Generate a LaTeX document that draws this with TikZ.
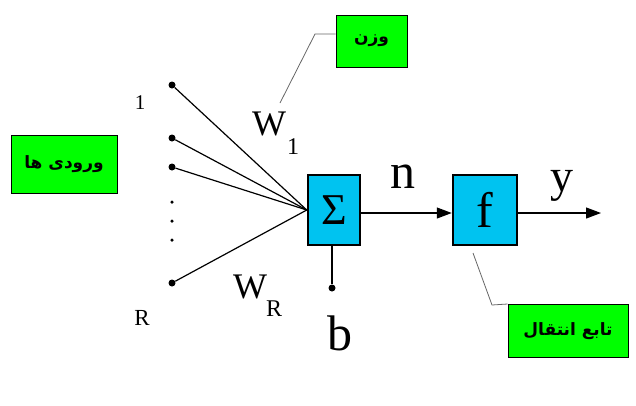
\documentclass[tikz,border=0pt]{standalone}
\usepackage{fontspec}
\setmainfont{Liberation Serif}
\newfontfamily\arabicfont[Script=Arabic]{DejaVu Sans}
\TeXXeTstate=1
\usetikzlibrary{arrows.meta}
\definecolor{boxgreen}{RGB}{0,255,0}
\definecolor{boxcyan}{RGB}{0,195,240}
\tikzset{
  greenbox/.style={draw=black, line width=1pt, fill=boxgreen, inner sep=0pt, font=\arabicfont\bfseries\fontsize{17}{19}\selectfont},
  cyanbox/.style={draw=black, line width=2.5pt, fill=boxcyan, inner sep=0pt},
  wire/.style={line width=1.2pt},
  leader/.style={draw=gray!80!black, line width=0.8pt},
  dotnode/.style={circle, fill=black, inner sep=0pt, minimum size=7pt},
  smalldot/.style={circle, fill=black, inner sep=0pt, minimum size=3.5pt},
  arr/.style={wire, -{Triangle[length=15pt,width=11pt]}},
  big/.style={font=\fontsize{50}{52}\selectfont, inner sep=0pt},
  wfont/.style={font=\fontsize{36}{38}\selectfont, inner sep=0pt},
  mid/.style={font=\fontsize{24}{26}\selectfont, inner sep=0pt},
  lab/.style={font=\fontsize{21}{23}\selectfont, inner sep=0pt},
}
\begin{document}
\begin{tikzpicture}[x=1pt,y=-1pt]
\useasboundingbox (0,0) rectangle (636,405);
% boxes
\node[cyanbox, minimum width=52pt, minimum height=70pt] (sig) at (334,210) {\fontsize{44}{46}\selectfont Σ};
\node[cyanbox, minimum width=64pt, minimum height=70pt] (f) at (485,210) {\fontsize{50}{52}\selectfont f};
\node[greenbox, minimum width=71pt, minimum height=52pt] (wbox) at (371.5,41) {\beginR وزن\endR};
\node[greenbox, minimum width=106pt, minimum height=58pt] (inbox) at (64,164) {\beginR ورودی ها\endR};
\node[greenbox, minimum width=120pt, minimum height=53pt] (tbox) at (568,331) {\beginR تابع انتقال\endR};
% inputs
\node[dotnode] (p1) at (172,85) {};
\node[dotnode] (p2) at (172,138) {};
\node[dotnode] (p3) at (172,167) {};
\node[smalldot] (d1) at (172,202) {};
\node[smalldot] (d2) at (172,221) {};
\node[smalldot] (d3) at (172,240) {};
\node[dotnode] (pR) at (172,283) {};
\foreach \p in {p1,p2,p3,pR} \draw[wire] (\p) -- (sig.west);
% bias
\node[dotnode] (bd) at (332,288) {};
\draw[wire] (sig.south -| bd) -- (bd);
\node[big] (b) at (340,333) {b};
% arrows
\coordinate (yend) at (601,213);
\draw[arr] (sig.east |- 0,213) -- (f.west |- 0,213);
\draw[arr] (f.east |- 0,213) -- (yend);
\node[big] (n) at (403,177) {n};
\node[big, font=\fontsize{46}{48}\selectfont] (y) at (562,186) {y};
% labels
\node[lab] (one) at (140,103) {1};
\node[lab, font=\fontsize{23}{25}\selectfont] (R) at (142,318) {R};
\node[wfont] (W1) at (269,124) {W};
\node[mid] (W1s) at (293,147) {1};
\node[wfont] (WR) at (250,287) {W};
\node[mid] (WRs) at (274,309) {R};
% leaders
\coordinate (l1) at (315,34);
\draw[leader] (280,103) -- (l1) -- (wbox.west |- l1);
\coordinate (l2) at (492,305);
\draw[leader] (473,253) -- (l2) -- (tbox.north west);
\end{tikzpicture}
\end{document}
